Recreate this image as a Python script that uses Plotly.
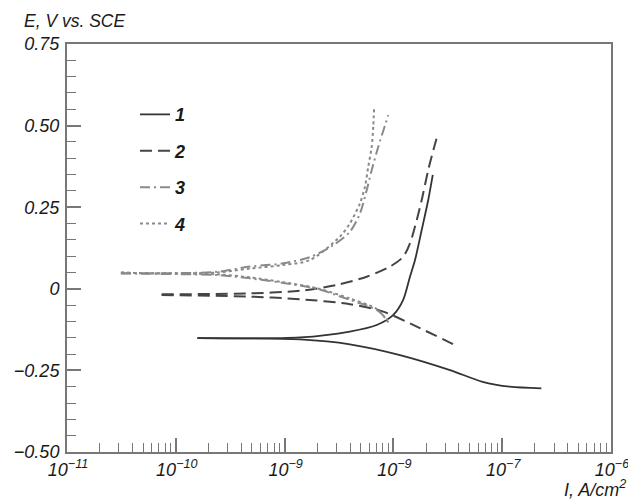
import plotly.graph_objects as go

# ---- data (current density A/cm^2, potential V vs SCE) ----
c1_anodic_i = [1.58e-10, 1.39e-9, 3.98e-9, 7.03e-9, 9.98e-9, 1.23e-8, 1.42e-8, 1.58e-8, 1.82e-8, 2.09e-8, 2.30e-8]
c1_anodic_e = [-0.151, -0.149, -0.131, -0.111, -0.080, -0.034, 0.037, 0.088, 0.180, 0.272, 0.349]
c1_cathodic_i = [1.58e-10, 1.39e-9, 3.98e-9, 1.15e-8, 3.31e-8, 6.61e-8, 1.17e-7, 2.29e-7]
c1_cathodic_e = [-0.151, -0.155, -0.170, -0.203, -0.249, -0.285, -0.300, -0.305]

c2_anodic_i = [7.41e-11, 4.81e-10, 1.39e-9, 3.01e-9, 5.69e-9, 9.31e-9, 1.23e-8, 1.42e-8, 1.64e-8, 1.82e-8, 2.09e-8, 2.33e-8, 2.53e-8]
c2_anodic_e = [-0.017, -0.014, -0.006, 0.012, 0.037, 0.068, 0.098, 0.139, 0.211, 0.272, 0.364, 0.425, 0.468]
c2_cathodic_i = [7.41e-11, 4.81e-10, 1.39e-9, 3.99e-9, 8.07e-9, 1.64e-8, 3.82e-8]
c2_cathodic_e = [-0.019, -0.024, -0.032, -0.047, -0.070, -0.116, -0.175]

c3_anodic_i = [3.13e-11, 5.79e-11, 2.38e-10, 4.81e-10, 9.73e-10, 1.71e-9, 2.81e-9, 3.99e-9, 4.93e-9, 5.69e-9, 6.32e-9, 7.26e-9, 8.97e-9]
c3_anodic_e = [0.048, 0.0475, 0.052, 0.068, 0.078, 0.097, 0.134, 0.175, 0.231, 0.303, 0.364, 0.435, 0.532]
c3_cathodic_i = [3.13e-11, 5.79e-11, 2.38e-10, 4.81e-10, 9.73e-10, 1.97e-9, 3.99e-9, 7.03e-9, 9.31e-9]
c3_cathodic_e = [0.047, 0.046, 0.042, 0.032, 0.018, 0.0, -0.034, -0.065, -0.103]

c4_anodic_i = [3.13e-11, 5.79e-11, 2.38e-10, 4.81e-10, 9.73e-10, 1.71e-9, 3.23e-9, 3.99e-9, 4.93e-9, 5.48e-9, 5.87e-9, 6.32e-9, 6.53e-9, 6.64e-9]
c4_anodic_e = [0.050, 0.047, 0.050, 0.062, 0.073, 0.088, 0.160, 0.201, 0.262, 0.313, 0.374, 0.435, 0.497, 0.550]
c4_cathodic_i = [3.13e-11, 2.38e-10, 4.81e-10, 9.73e-10, 1.97e-9, 3.99e-9, 7.03e-9, 9.0e-9]
c4_cathodic_e = [0.049, 0.044, 0.035, 0.020, 0.002, -0.030, -0.062, -0.103]

series_names = ["1", "2", "3", "4"]

x_tick_vals = [1e-11, 1e-10, 1e-9, 1e-8, 1e-7, 1e-6]
x_tick_text = ["10<sup>−11</sup>", "10<sup>−10</sup>", "10<sup>−9</sup>", "10<sup>−9</sup>", "10<sup>−7</sup>", "10<sup>−6</sup>"]
y_tick_vals = [0.75, 0.5, 0.25, 0.0, -0.25, -0.5]
y_tick_text = ["0.75", "0.50", "0.25", "0", "−0.25", "−0.50"]

FONT = "Liberation Sans, Arial, sans-serif"
AXC = "#777777"
TXT = "#1a1a1a"
FS = 18

styles = [
    dict(color="#333333", width=1.8, dash="solid"),
    dict(color="#444444", width=2.0, dash="12px,6px"),
    dict(color="#8a8a8a", width=2.0, dash="10px,4px,2px,4px"),
    dict(color="#8a8a8a", width=2.0, dash="3px,3px"),
]
curves = [
    (c1_cathodic_i, c1_cathodic_e, c1_anodic_i, c1_anodic_e),
    (c2_cathodic_i, c2_cathodic_e, c2_anodic_i, c2_anodic_e),
    (c3_cathodic_i, c3_cathodic_e, c3_anodic_i, c3_anodic_e),
    (c4_cathodic_i, c4_cathodic_e, c4_anodic_i, c4_anodic_e),
]

fig = go.Figure()
for name, st, (ci, ce, ai, ae) in zip(series_names, styles, curves):
    fig.add_trace(go.Scatter(
        x=list(ci) + [None] + list(ai),
        y=list(ce) + [None] + list(ae),
        mode="lines", name=f"<b><i>{name}</i></b>",
        line=dict(shape="spline", smoothing=0.8, **st),
        connectgaps=False, legendgroup=name,
    ))

minor_x = [m * 10.0 ** k for k in range(-11, -6) for m in range(2, 10)]
minor_y = [round(-0.5 + 0.05 * k, 2) for k in range(26)]

# page body has an 8px default margin -> figure sized to fit the 636x501 window
fig.update_layout(
    width=628, height=493,
    margin=dict(l=59, r=25, t=36, b=49, autoexpand=False),
    paper_bgcolor="white", plot_bgcolor="white",
    font=dict(family=FONT, size=FS, color=TXT),
    showlegend=True,
    legend=dict(x=0.125, y=0.872, xanchor="left", yanchor="top",
                bgcolor="rgba(0,0,0,0)", borderwidth=0,
                font=dict(family=FONT, size=FS, color=TXT),
                tracegroupgap=10, itemwidth=30),
    xaxis=dict(type="log", range=[-11, -6], showgrid=False, zeroline=False,
               automargin=False,
               showline=True, linecolor=AXC, linewidth=2, mirror=True,
               tickmode="array", tickvals=x_tick_vals, ticktext=x_tick_text,
               ticks="inside", ticklen=14, tickwidth=1.5, tickcolor=AXC,
               tickfont=dict(family=FONT, size=FS, style="italic", color=TXT),
               ticklabelshift=1, ticklabelstandoff=0,
               minor=dict(tickmode="array", tickvals=minor_x, ticks="inside",
                          ticklen=9, tickwidth=1.2, tickcolor=AXC, showgrid=False)),
    yaxis=dict(range=[-0.5, 0.75], showgrid=False, zeroline=False,
               automargin=False,
               showline=True, linecolor=AXC, linewidth=2, mirror=True,
               tickmode="array", tickvals=y_tick_vals, ticktext=y_tick_text,
               ticks="inside", ticklen=14, tickwidth=1.5, tickcolor=AXC,
               tickfont=dict(family=FONT, size=FS, style="italic", color=TXT),
               ticklabelstandoff=2,
               minor=dict(tickmode="array", tickvals=minor_y, ticks="inside",
                          ticklen=9, tickwidth=1.2, tickcolor=AXC, showgrid=False)),
    annotations=[
        dict(text="E, V vs. SCE", xref="paper", yref="paper", x=-0.082, y=1.0,
             xanchor="left", yanchor="bottom", yshift=11, showarrow=False,
             font=dict(family=FONT, size=17.5, style="italic", color=TXT)),
        dict(text="I, A/cm<sup>2</sup>", xref="paper", yref="paper", x=1.0, y=0.0,
             xanchor="right", yanchor="top", xshift=17, yshift=-23, showarrow=False,
             font=dict(family=FONT, size=FS, style="italic", color=TXT)),
    ],
)

fig.write_html("out.html")
